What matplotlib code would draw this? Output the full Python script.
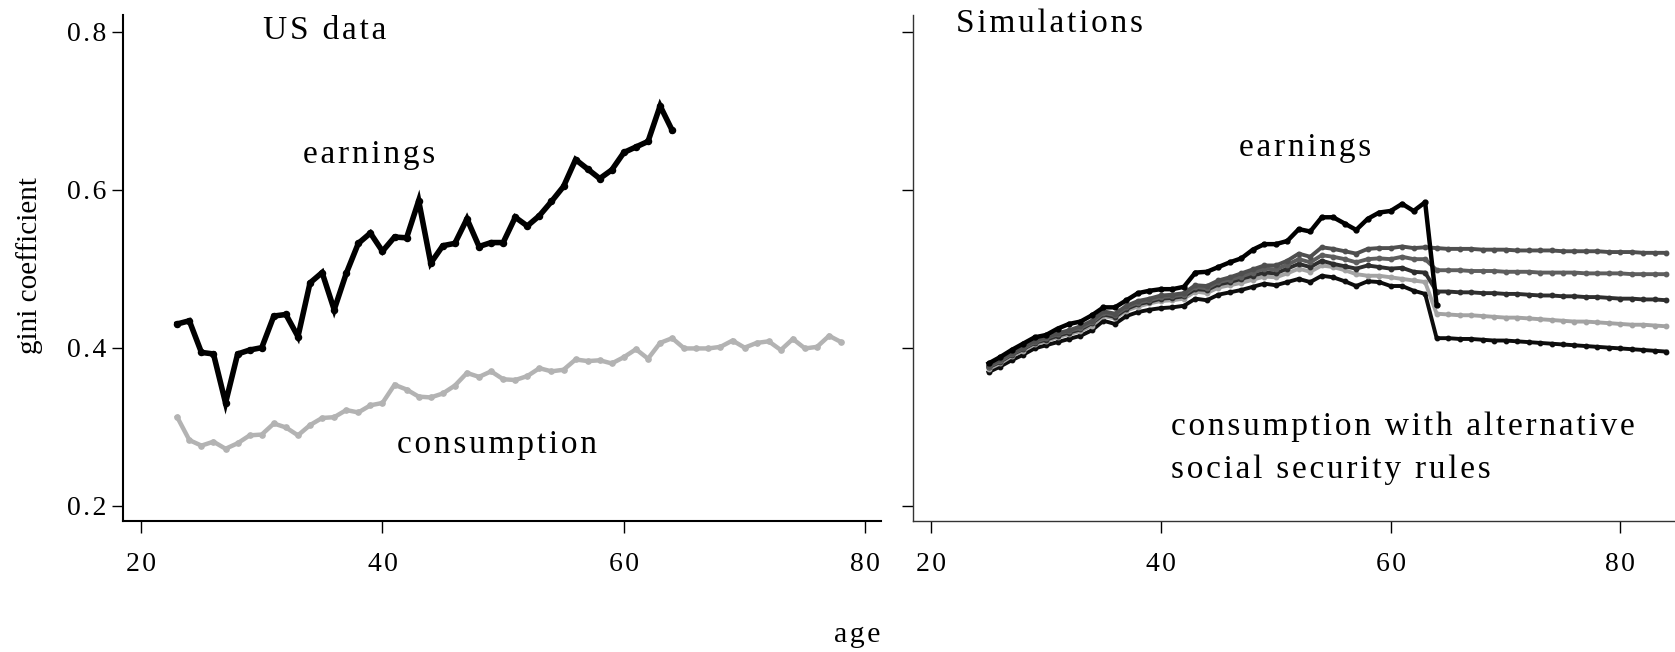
import numpy as np
import matplotlib
matplotlib.use('Agg')
import matplotlib.pyplot as plt

SERIF = 'Liberation Serif'
plt.rcParams['font.family'] = 'serif'
plt.rcParams['font.serif'] = [SERIF]

# Left panel: US data
us_earn_age = np.arange(23, 65)
us_earn = [0.430, 0.434, 0.394, 0.392, 0.330, 0.392, 0.397, 0.400, 0.440, 0.442,
           0.414, 0.482, 0.495, 0.448, 0.494, 0.532, 0.545, 0.522, 0.540, 0.539,
           0.586, 0.507, 0.529, 0.532, 0.563, 0.528, 0.533, 0.533, 0.565, 0.554,
           0.567, 0.585, 0.604, 0.638, 0.626, 0.614, 0.625, 0.647, 0.654, 0.661,
           0.706, 0.675]
us_cons_age = np.arange(23, 79)
us_cons = [0.312, 0.283, 0.276, 0.281, 0.272, 0.279, 0.289, 0.290, 0.304, 0.299,
           0.289, 0.302, 0.311, 0.312, 0.321, 0.318, 0.327, 0.330, 0.353, 0.347,
           0.338, 0.337, 0.342, 0.352, 0.368, 0.363, 0.370, 0.360, 0.359, 0.364,
           0.374, 0.370, 0.372, 0.385, 0.383, 0.384, 0.380, 0.388, 0.398, 0.386,
           0.406, 0.412, 0.399, 0.399, 0.399, 0.401, 0.409, 0.400, 0.406, 0.408,
           0.397, 0.411, 0.399, 0.401, 0.415, 0.407]

# Right panel: simulations
sim_earn_age = np.arange(25, 65)
sim_earn = [0.380, 0.388, 0.397, 0.405, 0.413, 0.416, 0.424, 0.430, 0.433, 0.441,
            0.451, 0.451, 0.460, 0.469, 0.472, 0.474, 0.474, 0.477, 0.495, 0.496,
            0.502, 0.508, 0.513, 0.524, 0.531, 0.531, 0.535, 0.550, 0.547, 0.565,
            0.565, 0.557, 0.549, 0.563, 0.571, 0.573, 0.582, 0.573, 0.584, 0.454]
sim_cons_age = np.arange(25, 85)
cons_a = [0.377, 0.385, 0.393, 0.400, 0.409, 0.413, 0.418, 0.422, 0.427, 0.434,
          0.446, 0.443, 0.453, 0.459, 0.462, 0.466, 0.467, 0.469, 0.479, 0.478,
          0.485, 0.489, 0.494, 0.499, 0.504, 0.504, 0.510, 0.519, 0.515, 0.527,
          0.525, 0.522, 0.519, 0.525, 0.526, 0.526, 0.528, 0.526, 0.527,
          0.526, 0.525, 0.525, 0.525, 0.524, 0.524, 0.524, 0.523, 0.523, 0.523,
          0.523, 0.522, 0.522, 0.522, 0.522, 0.521, 0.521, 0.521, 0.520, 0.520, 0.520]
cons_b = [0.376, 0.383, 0.392, 0.399, 0.407, 0.412, 0.417, 0.421, 0.425, 0.432,
          0.444, 0.441, 0.451, 0.457, 0.460, 0.464, 0.465, 0.467, 0.477, 0.475,
          0.483, 0.486, 0.490, 0.495, 0.500, 0.499, 0.505, 0.512, 0.508, 0.517,
          0.515, 0.512, 0.508, 0.512, 0.513, 0.512, 0.515, 0.512, 0.512,
          0.498, 0.498, 0.498, 0.497, 0.497, 0.497, 0.496, 0.496, 0.496, 0.495,
          0.495, 0.495, 0.495, 0.494, 0.494, 0.494, 0.494, 0.493, 0.493, 0.493, 0.493]
cons_c = [0.375, 0.382, 0.391, 0.398, 0.406, 0.410, 0.415, 0.419, 0.423, 0.431,
          0.442, 0.439, 0.449, 0.455, 0.458, 0.462, 0.463, 0.465, 0.474, 0.473,
          0.480, 0.483, 0.487, 0.491, 0.495, 0.494, 0.500, 0.506, 0.502, 0.510,
          0.506, 0.503, 0.500, 0.504, 0.502, 0.500, 0.501, 0.496, 0.495,
          0.471, 0.471, 0.470, 0.470, 0.469, 0.469, 0.468, 0.468, 0.467, 0.466,
          0.466, 0.465, 0.465, 0.464, 0.464, 0.463, 0.462, 0.462, 0.461, 0.461, 0.460]
cons_d = [0.373, 0.380, 0.389, 0.396, 0.404, 0.408, 0.413, 0.417, 0.421, 0.428,
          0.440, 0.437, 0.447, 0.452, 0.456, 0.459, 0.460, 0.462, 0.471, 0.469,
          0.476, 0.479, 0.482, 0.486, 0.490, 0.489, 0.494, 0.500, 0.496, 0.504,
          0.502, 0.498, 0.493, 0.491, 0.491, 0.489, 0.487, 0.485, 0.483,
          0.443, 0.442, 0.441, 0.441, 0.440, 0.439, 0.438, 0.438, 0.437, 0.436,
          0.435, 0.434, 0.433, 0.433, 0.432, 0.431, 0.430, 0.429, 0.429, 0.428, 0.427]
cons_e = [0.369, 0.376, 0.384, 0.391, 0.399, 0.403, 0.407, 0.411, 0.415, 0.422,
          0.434, 0.430, 0.440, 0.445, 0.448, 0.450, 0.451, 0.453, 0.462, 0.460,
          0.467, 0.470, 0.473, 0.477, 0.481, 0.479, 0.483, 0.487, 0.483, 0.491,
          0.489, 0.484, 0.478, 0.484, 0.483, 0.478, 0.478, 0.472, 0.468,
          0.412, 0.412, 0.411, 0.411, 0.410, 0.409, 0.409, 0.408, 0.407, 0.406,
          0.405, 0.404, 0.403, 0.402, 0.401, 0.400, 0.399, 0.398, 0.397, 0.396, 0.395]

y_ticks = [0.2, 0.4, 0.6, 0.8]
x_ticks = [20, 40, 60, 80]


def spaced(s):
    # mimic the wide letter spacing of the original
    return '\u200a \u200a'.join('\u200a'.join(w) for w in s.split(' '))


W, H = 1675, 652
fig = plt.figure(figsize=(W / 100, H / 100), dpi=100)
ax1 = fig.add_axes([122.7 / W, 1 - 521 / H, (881 - 122.7) / W, 506 / H])
ax2 = fig.add_axes([913 / W, 1 - 521 / H, (W - 913) / W, 506 / H])

# left: US data
ax1.plot(us_cons_age, us_cons, color='#b3b3b3', lw=3.2, marker='o', ms=3.8,
         solid_joinstyle='miter')
ax1.plot(us_earn_age, us_earn, color='black', lw=4.0, marker='o', ms=4.4,
         solid_joinstyle='miter')
ax1.set_xlim(18.48, 81.3)

# right: simulations
cons_lines = [(cons_e, '#0d0d0d'), (cons_d, '#a3a3a3'), (cons_c, '#2e2e2e'),
              (cons_b, '#5e5e5e'), (cons_a, '#4f4f4f')]
for vals, col in cons_lines:
    ax2.plot(sim_cons_age, vals, color=col, lw=2.8, marker='o', ms=3.2)
ax2.plot(sim_earn_age, sim_earn, color='black', lw=3.2, marker='o', ms=3.5)
ax2.set_xlim(18.42, 84.75)

for ax in (ax1, ax2):
    ax.set_ylim(0.1806, 0.821)
    ax.spines['top'].set_visible(False)
    ax.spines['right'].set_visible(False)
    ax.set_yticks(y_ticks)
    ax.set_xticks(x_ticks)
    ax.set_xticklabels([spaced(str(t)) for t in x_ticks], fontsize=20, family=SERIF)
    ax.tick_params(axis='y', length=8, width=1.0, pad=3.5)
    ax.tick_params(axis='x', length=8.5, width=1.0, pad=14)

ax1.set_yticklabels([spaced('%.1f' % t) for t in y_ticks], fontsize=20, family=SERIF)
ax2.set_yticklabels([])
for sp in ('left', 'bottom'):
    ax1.spines[sp].set_linewidth(1.5)
    ax2.spines[sp].set_linewidth(1.0)
    ax2.spines[sp].set_color('#333333')

fs = 24
ax1.text(30.1, 0.791, spaced('US data'), fontsize=fs, family=SERIF)
ax1.text(33.4, 0.634, spaced('earnings'), fontsize=fs, family=SERIF)
ax1.text(41.2, 0.267, spaced('consumption'), fontsize=fs, family=SERIF)

ax2.text(22.2, 0.799, spaced('Simulations'), fontsize=fs, family=SERIF)
ax2.text(46.8, 0.643, spaced('earnings'), fontsize=fs, family=SERIF)
ax2.text(40.84, 0.2894, spaced('consumption with alternative'), fontsize=fs, family=SERIF)
ax2.text(40.84, 0.2346, spaced('social security rules'), fontsize=fs, family=SERIF)

fig.text(30 / W, 1 - 266 / H, 'gini coefficient', rotation=90, fontsize=21,
         ha='center', va='center', family=SERIF)
fig.text(834 / W, 1 - 642 / H, spaced('age'), fontsize=21.5, ha='left', va='baseline',
         family=SERIF)

fig.savefig('out.png', dpi=100)
